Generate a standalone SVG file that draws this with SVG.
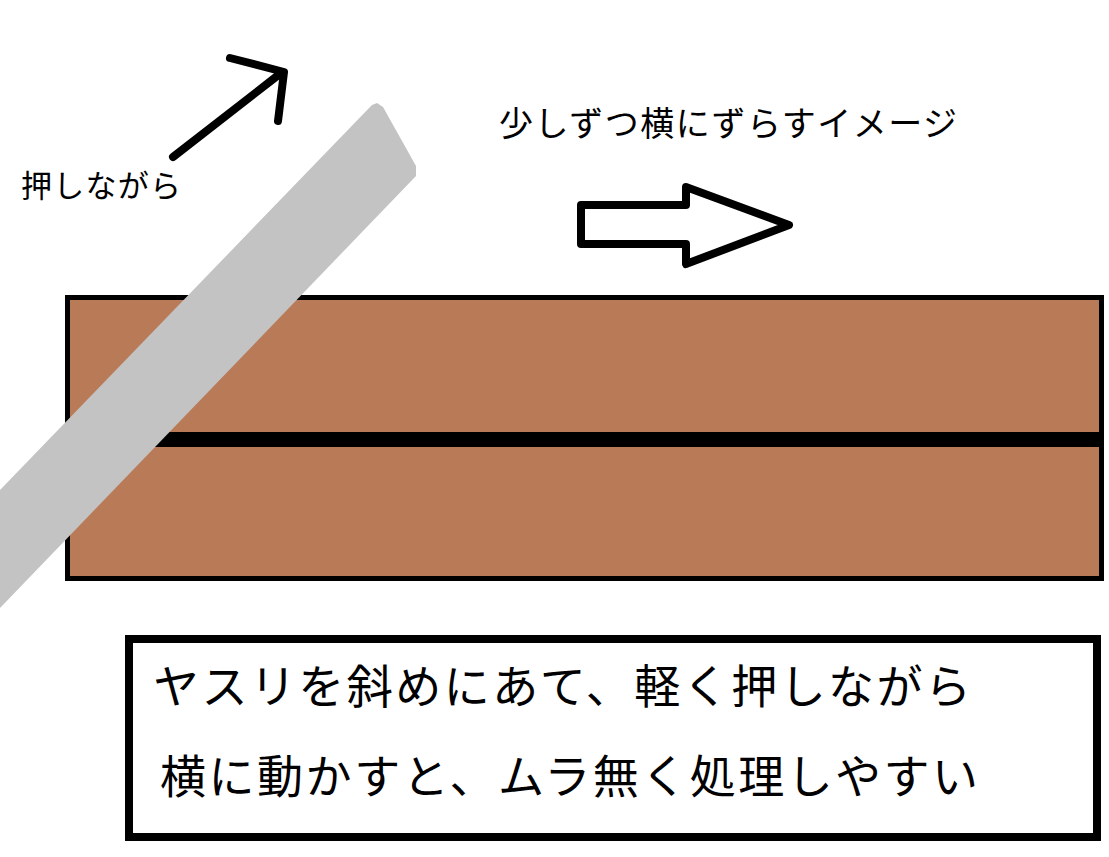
<svg xmlns="http://www.w3.org/2000/svg" width="1109" height="857" viewBox="0 0 1109 857">
  <style>
    .jp { font-family: "Noto Sans CJK JP", "Noto Sans CJK SC", sans-serif; fill: #000; }
    .stroke { fill: none; stroke: #000; stroke-linecap: round; stroke-linejoin: round; }
  </style>
  <rect x="0" y="0" width="1109" height="857" fill="#fff"/>

  <g id="board">
    <rect x="67.5" y="297.5" width="1034" height="281" fill="#B97A57" stroke="#000" stroke-width="5"/>
    <rect x="67" y="432" width="1037" height="15" fill="#000"/>
  </g>

  <g id="file">
    <polygon points="372,105 377,103 383,107 416,166 416,176 0,608 0,490" fill="#C3C3C3"/>
  </g>

  <g id="connectors">
    <line class="stroke" x1="173" y1="157" x2="281" y2="73" stroke-width="8"/>
    <polyline class="stroke" points="230,58 284,72 278,121" stroke-width="8"/>
    <polygon class="stroke" points="581,205 686,205 686,187 789,225 686,264 686,244 581,244" stroke-width="8" fill="#fff"/>
  </g>

  <g id="label-push">
    <text class="jp" x="21" y="197" font-size="31" textLength="160" lengthAdjust="spacing">押しながら</text>
  </g>

  <g id="label-shift">
    <text class="jp" x="499" y="136" font-size="34" textLength="458" lengthAdjust="spacing">少しずつ横にずらすイメージ</text>
  </g>

  <g id="note">
    <rect x="129" y="639" width="968" height="198" fill="#fff" stroke="#000" stroke-width="8"/>
    <text class="jp" x="153" y="703" font-size="46" textLength="818" lengthAdjust="spacing">ヤスリを斜めにあて、軽く押しながら</text>
    <text class="jp" x="160" y="793" font-size="46" textLength="818" lengthAdjust="spacing">横に動かすと、ムラ無く処理しやすい</text>
  </g>
</svg>
